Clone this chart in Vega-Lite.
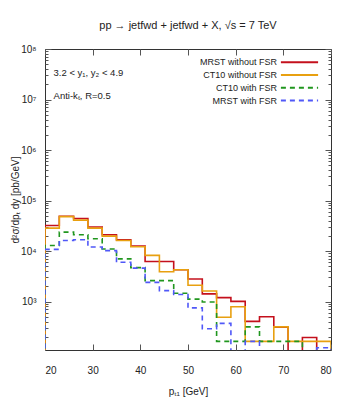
{
  "$schema": "https://vega.github.io/schema/vega-lite/v6.json",
  "width": 286,
  "height": 301,
  "autosize": {"type": "none"},
  "padding": {"left": 45, "top": 49, "right": 18, "bottom": 68},
  "background": "white",
  "config": {
    "font": "Liberation Sans",
    "view": {"stroke": "#333", "strokeWidth": 1},
    "axis": {"grid": false, "domain": false, "tickColor": "#555", "labelColor": "#222", "titleColor": "#222", "titleFontWeight": "normal", "labelFont": "Liberation Sans, Noto Sans", "titleFont": "Liberation Sans, Noto Sans"}
  },
  "title": {"text": "pp → jetfwd + jetfwd + X, √s = 7 TeV", "fontSize": 11, "fontWeight": "normal", "font": "Liberation Sans", "color": "#222", "offset": 13},
  "datasets": {
    "hist": [
      {"o": 0, "x": 20, "MRST without FSR": 10, "CT10 without FSR": 10, "CT10 with FSR": 10, "MRST with FSR": 10},
      {"o": 1, "x": 20, "MRST without FSR": 32000, "CT10 without FSR": 28500, "CT10 with FSR": 12900, "MRST with FSR": 10800},
      {"o": 2, "x": 23, "MRST without FSR": 49000, "CT10 without FSR": 48000, "CT10 with FSR": 23700, "MRST with FSR": 16200},
      {"o": 3, "x": 26, "MRST without FSR": 44000, "CT10 without FSR": 41000, "CT10 with FSR": 21000, "MRST with FSR": 16800},
      {"o": 4, "x": 29, "MRST without FSR": 30000, "CT10 without FSR": 28500, "CT10 with FSR": 17500, "MRST with FSR": 12000},
      {"o": 5, "x": 32, "MRST without FSR": 21000, "CT10 without FSR": 19800, "CT10 with FSR": 11000, "MRST with FSR": 10200},
      {"o": 6, "x": 35, "MRST without FSR": 16800, "CT10 without FSR": 16200, "CT10 with FSR": 7000, "MRST with FSR": 6000},
      {"o": 7, "x": 38, "MRST without FSR": 12500, "CT10 without FSR": 12200, "CT10 with FSR": 4700, "MRST with FSR": 4600},
      {"o": 8, "x": 41, "MRST without FSR": 6200, "CT10 without FSR": 8200, "CT10 with FSR": 2600, "MRST with FSR": 2400},
      {"o": 9, "x": 44, "MRST without FSR": 6200, "CT10 without FSR": 3900, "CT10 with FSR": 2600, "MRST with FSR": 1650},
      {"o": 10, "x": 47, "MRST without FSR": 4270, "CT10 without FSR": 4270, "CT10 with FSR": 1460, "MRST with FSR": 1380},
      {"o": 11, "x": 50, "MRST without FSR": 2800, "CT10 without FSR": 2100, "CT10 with FSR": 1120, "MRST with FSR": 750},
      {"o": 12, "x": 53, "MRST without FSR": 1420, "CT10 without FSR": 1620, "CT10 with FSR": 980, "MRST with FSR": 290},
      {"o": 13, "x": 56, "MRST without FSR": 1200, "CT10 without FSR": 490, "CT10 with FSR": 163, "MRST with FSR": 370},
      {"o": 14, "x": 59, "MRST without FSR": 1010, "CT10 without FSR": 790, "CT10 with FSR": 163, "MRST with FSR": 10},
      {"o": 15, "x": 62, "MRST without FSR": 405, "CT10 without FSR": 163, "CT10 with FSR": 316, "MRST with FSR": 163},
      {"o": 16, "x": 65, "MRST without FSR": 500, "CT10 without FSR": 163, "CT10 with FSR": 163, "MRST with FSR": 10},
      {"o": 17, "x": 68, "MRST without FSR": 310, "CT10 without FSR": 316, "CT10 with FSR": 163, "MRST with FSR": 10},
      {"o": 18, "x": 71, "MRST without FSR": 10, "CT10 without FSR": 163, "CT10 with FSR": 163, "MRST with FSR": 10},
      {"o": 19, "x": 74, "MRST without FSR": 195, "CT10 without FSR": 163, "CT10 with FSR": 10, "MRST with FSR": 10},
      {"o": 20, "x": 77, "MRST without FSR": 10, "CT10 without FSR": 163, "CT10 with FSR": 10, "MRST with FSR": 122},
      {"o": 21, "x": 80, "MRST without FSR": 10, "CT10 without FSR": 163, "CT10 with FSR": 10, "MRST with FSR": 122},
      {"o": 22, "x": 80, "MRST without FSR": 10, "CT10 without FSR": 10, "CT10 with FSR": 10, "MRST with FSR": 10}
    ]
  },
  "layer": [
    {
      "data": {"name": "hist"},
      "transform": [{"fold": ["MRST without FSR", "CT10 without FSR", "CT10 with FSR", "MRST with FSR"], "as": ["s", "v"]}],
      "mark": {"type": "line", "interpolate": "step-after", "clip": true, "strokeWidth": 1.6},
      "encoding": {
        "x": {"field": "x", "type": "quantitative", "scale": {"domain": [20, 80], "nice": false, "zero": false},
          "axis": {"values": [20, 30, 40, 50, 60, 70, 80], "tickSize": -6, "labelPadding": 21, "labelFontSize": 10, "title": "pₜ₁ [GeV]", "titleFontSize": 10, "titlePadding": 11}},
        "y": {"field": "v", "type": "quantitative", "scale": {"type": "log", "domain": [110, 100000000], "nice": false},
          "axis": {"values": [200, 300, 400, 500, 600, 700, 800, 900, 1000, 2000, 3000, 4000, 5000, 6000, 7000, 8000, 9000, 10000, 20000, 30000, 40000, 50000, 60000, 70000, 80000, 90000, 100000, 200000, 300000, 400000, 500000, 600000, 700000, 800000, 900000, 1000000, 2000000, 3000000, 4000000, 5000000, 6000000, 7000000, 8000000, 9000000, 10000000, 20000000, 30000000, 40000000, 50000000, 60000000, 70000000, 80000000, 90000000, 100000000],
            "labelExpr": "abs(log(datum.value)/LN10 - round(log(datum.value)/LN10)) < 0.001 ? '10' + ['⁰','¹','²','³','⁴','⁵','⁶','⁷','⁸'][round(log(datum.value)/LN10)] : ''",
            "tickSize": {"condition": {"test": "abs(log(datum.value)/LN10 - round(log(datum.value)/LN10)) < 0.001", "value": -6}, "value": -3},
            "labelPadding": 15, "labelFontSize": 10, "labelBound": false, "labelOverlap": false, "title": "d²σ/dpₜ dy [pb/GeV]", "titleFontSize": 10, "titlePadding": 0}},
        "color": {"field": "s", "type": "nominal",
          "scale": {"domain": ["MRST without FSR", "CT10 without FSR", "CT10 with FSR", "MRST with FSR"], "range": ["#c4101c", "#e8a010", "#20961e", "#5058f8"]},
          "legend": {"title": null, "orient": "none", "legendX": 247.5, "legendY": 6.2, "padding": 0, "symbolType": "M-3.1,0H3.1", "symbolSize": 144, "symbolStrokeWidth": 2, "labelAlign": "right", "labelOffset": -29.6, "labelFontSize": 9, "labelFont": "Liberation Sans", "labelColor": "#222", "rowPadding": 0.8}},
        "strokeDash": {"field": "s", "type": "nominal",
          "scale": {"domain": ["MRST without FSR", "CT10 without FSR", "CT10 with FSR", "MRST with FSR"], "range": [[1, 0], [1, 0], [5, 4], [5, 4]]},
          "legend": {"title": null, "orient": "none", "legendX": 247.5, "legendY": 6.2, "padding": 0, "symbolType": "M-3.1,0H3.1", "symbolSize": 144, "symbolStrokeWidth": 2, "labelAlign": "right", "labelOffset": -29.6, "labelFontSize": 9, "labelFont": "Liberation Sans", "labelColor": "#222", "rowPadding": 0.8}},
        "order": {"field": "o", "type": "quantitative"}
      }
    },
    {
      "data": {"values": [{"x": 21.8, "y": 34000000, "t": "3.2 < y₁, y₂ < 4.9"}, {"x": 21.8, "y": 11500000, "t": "Anti-kₜ, R=0.5"}]},
      "mark": {"type": "text", "align": "left", "baseline": "middle", "fontSize": 9.5, "font": "Liberation Sans", "color": "#222"},
      "encoding": {
        "x": {"field": "x", "type": "quantitative", "axis": {"orient": "top", "values": [20, 30, 40, 50, 60, 70, 80], "labels": false, "title": null, "tickSize": -6}},
        "y": {"field": "y", "type": "quantitative", "axis": {"orient": "right", "values": [200, 300, 400, 500, 600, 700, 800, 900, 1000, 2000, 3000, 4000, 5000, 6000, 7000, 8000, 9000, 10000, 20000, 30000, 40000, 50000, 60000, 70000, 80000, 90000, 100000, 200000, 300000, 400000, 500000, 600000, 700000, 800000, 900000, 1000000, 2000000, 3000000, 4000000, 5000000, 6000000, 7000000, 8000000, 9000000, 10000000, 20000000, 30000000, 40000000, 50000000, 60000000, 70000000, 80000000, 90000000, 100000000], "labels": false, "title": null,
          "tickSize": {"condition": {"test": "abs(log(datum.value)/LN10 - round(log(datum.value)/LN10)) < 0.001", "value": -6}, "value": -3}}},
        "text": {"field": "t", "type": "nominal"}
      }
    }
  ],
  "resolve": {"axis": {"x": "independent", "y": "independent"}}
}
